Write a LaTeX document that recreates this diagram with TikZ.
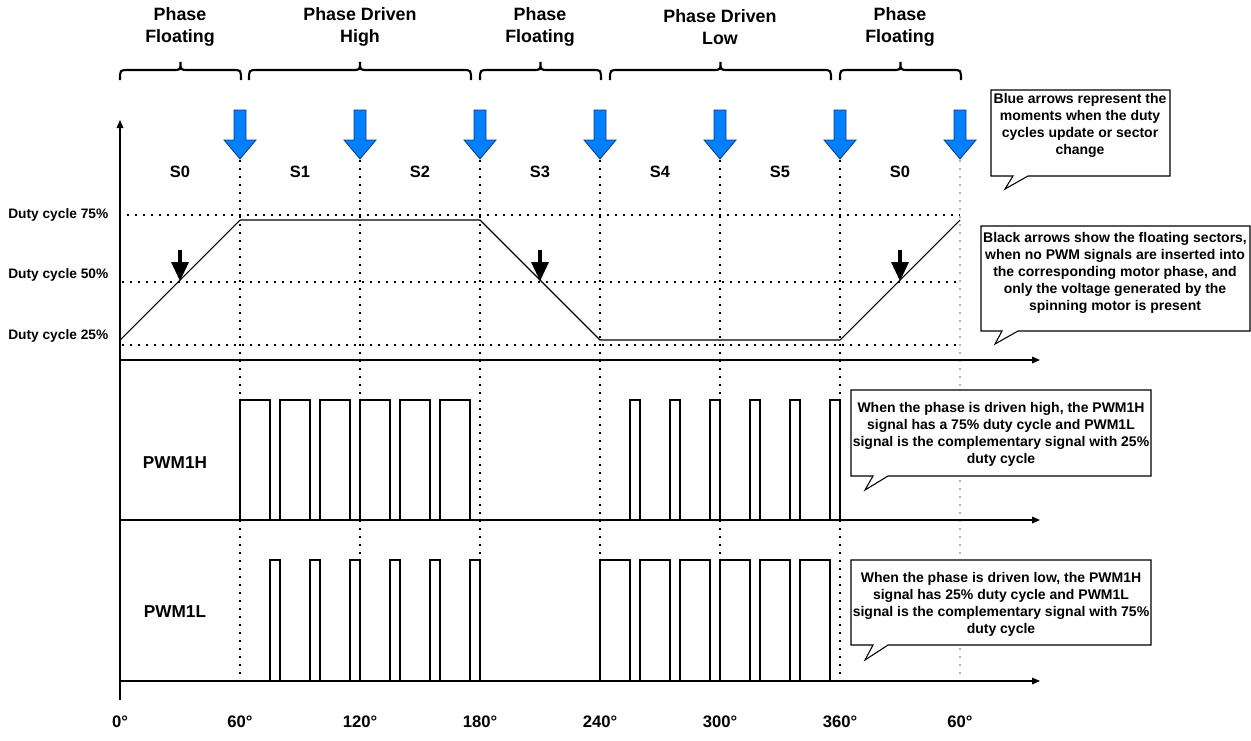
\documentclass[tikz,border=0pt]{standalone}
\usepackage{fontspec}
\setmainfont{Liberation Sans}
\usetikzlibrary{arrows.meta}
\definecolor{arrowblue}{RGB}{0,127,255}
\definecolor{arrowedge}{RGB}{20,60,120}
\begin{document}
\begin{tikzpicture}[x=0.75pt,y=-0.75pt,
  axis/.style={line width=0.8pt,-{Triangle[length=6pt,width=5pt]}},
  grid/.style={line width=1.3pt,dash pattern=on 1.3pt off 4.7pt},
  sig/.style={line width=0.9pt},
  brace/.style={line width=1.6pt},
  hdr/.style={font=\bfseries\fontsize{13.4}{16.5}\selectfont,align=center},
  slab/.style={font=\bfseries\fontsize{12.3}{14}\selectfont},
  duty/.style={font=\bfseries\fontsize{10.3}{12}\selectfont,anchor=east},
  pwm/.style={font=\bfseries\fontsize{12.9}{15}\selectfont},
  deg/.style={font=\bfseries\fontsize{12.5}{14}\selectfont},
  note/.style={font=\bfseries\fontsize{10.5}{12.75}\selectfont,align=center,inner sep=0pt},
  callout/.style={line width=0.8pt,fill=white},
  bluearrow/.style={fill=arrowblue,draw=arrowedge,line width=0.6pt},
]
\useasboundingbox (0,0) rectangle (1251,740);

% headers
\node[hdr] (h1) at (180,27) {Phase\\Floating};
\node[hdr] (h2) at (360,27) {Phase Driven\\High};
\node[hdr] (h3) at (540,27) {Phase\\Floating};
\node[hdr] (h4) at (720,27) {Phase Driven\\Low};
\node[hdr] (h5) at (900,27) {Phase\\Floating};

% braces
\foreach \a/\b in {120/241,249/471,480/601,610/831,840/961}{
  \pgfmathsetmacro{\m}{(\a+\b)/2}
  \draw[brace] (\a,80) .. controls (\a,70) .. (\a+8,70) -- (\m-8,70)
    .. controls (\m,70) .. (\m,62) .. controls (\m,70) .. (\m+8,70)
    -- (\b-8,70) .. controls (\b,70) .. (\b,80);
}

% vertical dotted lines
\foreach \x in {240,360,480,600,720,840}
  \draw[grid] (\x,160) -- (\x,681);
\draw[grid,gray!55] (960,160) -- (960,681);

% horizontal dotted lines
\draw[grid] (127,215) -- (960,215);
\draw[grid] (122,282) -- (960,282);
\draw[grid] (122,345) -- (960,345);

% axes
\draw[axis] (120,700) -- (120,120);
\draw[axis] (120,360) -- (1040,360);
\draw[axis] (120,520) -- (1040,520);
\draw[axis] (120,681) -- (1040,681);

% blue arrows
\foreach \c in {240,360,480,600,720,840,960}
  \draw[bluearrow] (\c-6,110) -- (\c+6,110) -- (\c+6,140) -- (\c+16,140)
    -- (\c,159) -- (\c-16,140) -- (\c-6,140) -- cycle;

% sector labels
\node[slab] (s0a) at (180,172) {S0};
\node[slab] (s1) at (300,172) {S1};
\node[slab] (s2) at (420,172) {S2};
\node[slab] (s3) at (540,172) {S3};
\node[slab] (s4) at (660,172) {S4};
\node[slab] (s5) at (780,172) {S5};
\node[slab] (s0b) at (900,172) {S0};

% duty labels
\node[duty] (d75) at (113,215) {Duty cycle 75\%};
\node[duty] (d50) at (113,275) {Duty cycle 50\%};
\node[duty] (d25) at (113,336) {Duty cycle 25\%};

% duty curve
\draw[line width=0.8pt] (120,340) -- (240,220) -- (480,220) -- (600,340) -- (840,340) -- (960,220);

% black arrows
\foreach \c in {180,540,900}{
  \draw[line width=2.6pt] (\c,250) -- (\c,264);
  \fill (\c-9,262) -- (\c+9,262) -- (\c,281) -- cycle;
}

% PWM labels
\node[pwm] (p1h) at (175,463) {PWM1H};
\node[pwm] (p1l) at (175,612) {PWM1L};

% PWM1H pulses
\foreach \a in {240,280,...,440}
  \draw[sig] (\a,520) -- (\a,400) -- (\a+30,400) -- (\a+30,520);
\foreach \a in {630,670,...,830}
  \draw[sig] (\a,520) -- (\a,400) -- (\a+10,400) -- (\a+10,520);
% PWM1L pulses
\foreach \a in {270,310,...,470}
  \draw[sig] (\a,681) -- (\a,560) -- (\a+10,560) -- (\a+10,681);
\foreach \a in {600,640,...,800}
  \draw[sig] (\a,681) -- (\a,560) -- (\a+30,560) -- (\a+30,681);

% degree labels
\foreach \x/\t [count=\i] in {120/0°,240/60°,360/120°,480/180°,600/240°,720/300°,840/360°,960/60°}
  \node[deg] (deg\i) at (\x,722) {\t};

% callouts
\draw[callout] (991,90) -- (1170,90) -- (1170,176) -- (1028,176) -- (1005,189) -- (1013,176) -- (991,176) -- cycle;
\node[note] (n1) at (1080,125) {Blue arrows represent the\\moments when the duty\\cycles update or sector\\change};

\draw[callout] (981,226) -- (1250,226) -- (1250,331) -- (1018,331) -- (995,344) -- (1002,331) -- (981,331) -- cycle;
\node[note] (n2) at (1115,273) {Black arrows show the floating sectors,\\when no PWM signals are inserted into\\the corresponding motor phase, and\\only the voltage generated by the\\spinning motor is present};

\draw[callout] (851,390) -- (1151,390) -- (1151,476) -- (888,476) -- (865,490) -- (873,476) -- (851,476) -- cycle;
\node[note] (n3) at (1001,434) {When the phase is driven high, the PWM1H\\signal has a 75\% duty cycle and PWM1L\\signal is the complementary signal with 25\%\\duty cycle};

\draw[callout] (851,560) -- (1151,560) -- (1151,645) -- (888,645) -- (865,660) -- (873,645) -- (851,645) -- cycle;
\node[note] (n4) at (1001,604) {When the phase is driven low, the PWM1H\\signal has 25\% duty cycle and PWM1L\\signal is the complementary signal with 75\%\\duty cycle};
\end{tikzpicture}
\end{document}
